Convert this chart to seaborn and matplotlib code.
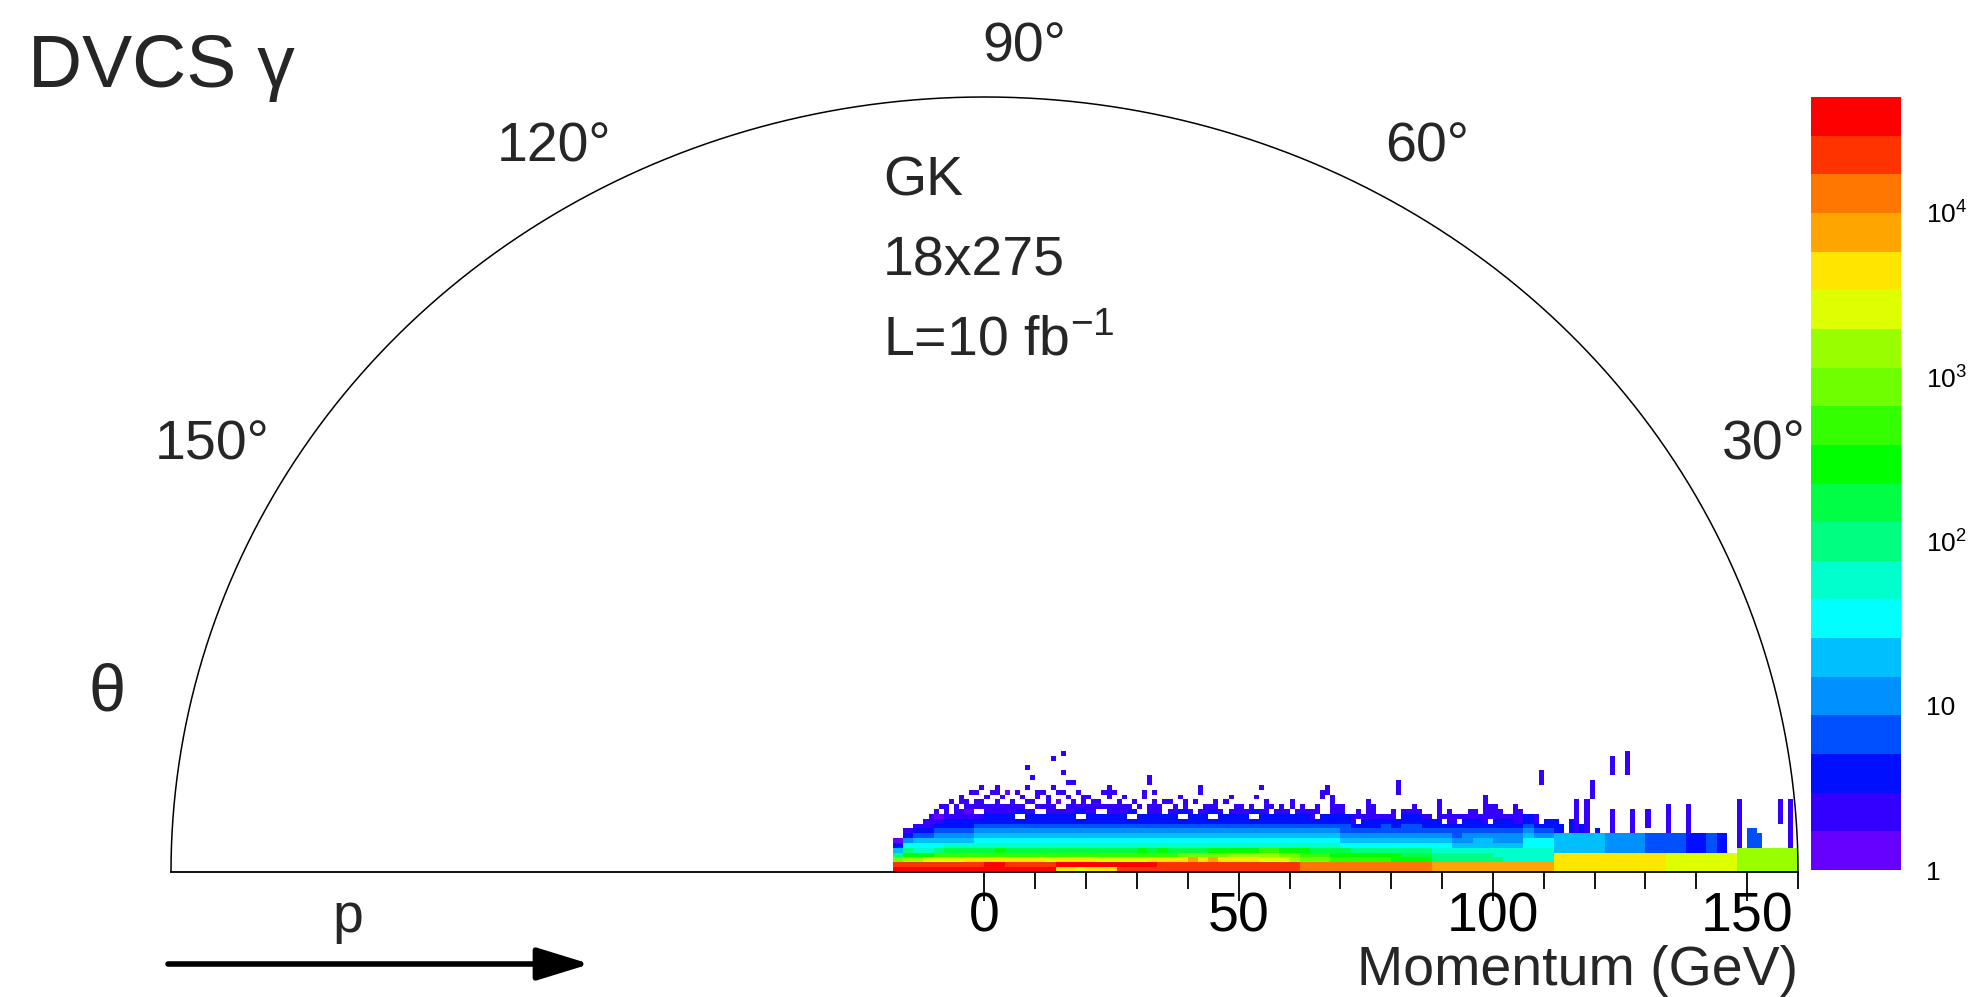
import numpy as np
import matplotlib
matplotlib.use("Agg")
import matplotlib.pyplot as plt
import seaborn as sns
from matplotlib.colors import ListedColormap, LogNorm
from matplotlib.cm import ScalarMappable
from matplotlib.ticker import NullLocator

# ------------------------------------------------------------------ data
TITLE = "DVCS γ"
INFO_LINES = ["GK", "18x275", "L=10 fb$^{-1}$"]
ANGLE_LABELS = ["150°", "120°", "90°", "60°", "30°"]
THETA_LABEL = "θ"
ARROW_LABEL = "p"
X_LABEL = "Momentum (GeV)"
MOMENTUM_TICKS = [0, 50, 100, 150]
MOMENTUM_MINOR_STEP = 10
MOMENTUM_MAX = 160

# histogram binning (GeV)
X_BIN_START = -18
X_BIN_WIDTH = 1
CORE_COLUMN_WIDTH = 2
Y_BIN_HEIGHT = 1.0

# colour palette: 20 log-spaced contour levels, 1 ... ~5e4
LEVEL_COLORS = ["#6600ff", "#3300ff", "#0010ff", "#0050ff", "#0090ff",
                "#00bfff", "#00ffff", "#00ffcc", "#00ff80", "#00ff44",
                "#00ff00", "#33ff00", "#70ff00", "#99ff00", "#ddff00",
                "#ffe600", "#ffa500", "#ff7700", "#ff3300", "#ff0000"]
LEVEL_STEP = 4.0 / 17.0                 # decades per colour level
LEVEL_CODES = "123456789abcdefghijk"    # level 1..20
CBAR_TICKS = [1, 10, 100, 1000, 10000]
CBAR_LABELS = ["1", "10", "$10^{2}$", "$10^{3}$", "$10^{4}$"]

# dense core: one profile per 2 GeV momentum column starting at -18 GeV,
# colour level of each 1 GeV-high cell from the bottom up ('.' = empty)
CORE_PROFILES = [
    "kjd9631",          # -18
    "kjeb97532",        # -16
    "kjeb876432",       # -14
    "kjfb8764322",      # -12
    "kjfc97654321",     # -10
    "kjfca8654332",     # -8
    "kjfca86543322",    # -6
    "kjgca865433212",   # -4
    "kjgca8765432.2",   # -2
    "kkgca87654332",    # 0
    "kkgcb876543322",   # 2
    "kjgca87654332",    # 4
    "kjgca876543.32",   # 6
    "kjgca87654332",    # 8
    "kjgca8765433.2",   # 10
    "kjfca876543322",   # 12
    "gkgca87654332",    # 14
    "gkgca876543322",   # 16
    "fkgca876543.32",   # 18
    "gkgca87654332",    # 20
    "gkfca8765433.2",   # 22
    "gkfca876543322",   # 24
    "jkfca87654332",    # 26
    "jkfca876543.3",    # 28
    "jkfcb8765433",     # 30
    "jkgca876543322",   # 32
    "jjgcb8765433",     # 34
    "jjgca87654332",    # 36
    "jjgda876543.3",    # 38
    "jjhda8765433",     # 40
    "jjgda87654332",    # 42
    "jjhdb876543.3",    # 44
    "jjgdb8765433",     # 46
    "jjgeb87654332",    # 48
    "jjgeb8765433",     # 50
    "jjgeb876543.3",    # 52
    "jjfec87654332",    # 54
    "jjfec8765433",     # 56
    "jjfdb87654332",    # 58
    "jjedb8765433",     # 60
    "iidcb87654332",    # 62
    "iidca876543",      # 64
    "iidca8765433",     # 66
    "iicba876543322",   # 68
    "iicba7654433",     # 70
    "iicb976543",       # 72
    "iicb97654332",     # 74
    "iicb9765433",      # 76
    "iicb97654432",     # 78
    "iibb9765433",      # 80
    "iiba976544332",    # 82
    "iiba97654433",     # 84
    "iiba9765433",      # 86
    "hh998765433",      # 88
    "hh99876543",       # 90
    "hh99865443",       # 92
    "hh9986554332",     # 94
    "hh998665433",      # 96
    "hh99866543",       # 98
    "hh9886554332",     # 100
    "hh888655433",      # 102
    "hh88865543",       # 104
    "hh8887765433",     # 106
    "hh88877543",       # 108
    "hh8887754",        # 110
    "gggg6666",         # 112
    "gggg6666",         # 114
    "gggg6666",         # 116
    "gggg6666",         # 118
    "gggg6666",         # 120
    "gggg5555",         # 122
    "gggg5555",         # 124
    "gggg5555",         # 126
    "gggg5555",         # 128
    "gggg4444",         # 130
    "gggg4444",         # 132
    "ffff4444",         # 134
    "ffff4444",         # 136
    "ffff3333",         # 138
    "ffff3333",         # 140
    "ffff4444",         # 142
    "ffff3333",         # 144
    "ffff",             # 146
    "eeeee",            # 148
    "eeeee",            # 150
    "eeeee",            # 152
    "eeeee",            # 154
    "eeeee",            # 156
    "eeeee",            # 158
]

# sparse cells above the core: (momentum bin left edge in GeV, first row,
# last row, colour level) for 1 GeV wide vertical runs
SPARSE_RUNS = [
    (-11, 10, 11, 2), (-10, 12, 12, 2), (-9, 11, 11, 1), (-8, 12, 13, 2),
    (-7, 11, 11, 2), (-6, 13, 13, 2), (-5, 12, 12, 1), (-4, 14, 14, 2),
    (-3, 16, 16, 2), (-3, 13, 13, 2), (-2, 14, 14, 2), (-1, 17, 17, 2),
    (-1, 13, 14, 2), (0, 15, 15, 2), (1, 13, 13, 2), (1, 16, 16, 2),
    (2, 14, 14, 2), (3, 13, 13, 1), (4, 13, 13, 2), (5, 14, 14, 2),
    (6, 13, 13, 2), (7, 15, 15, 2), (8, 21, 21, 2), (9, 19, 19, 2),
    (9, 14, 14, 2), (10, 15, 16, 2), (11, 13, 13, 2), (12, 14, 15, 2),
    (13, 17, 17, 2), (13, 23, 23, 2), (14, 14, 14, 1), (15, 16, 16, 2),
    (15, 20, 20, 2), (15, 24, 24, 2), (16, 18, 18, 2), (17, 18, 18, 2),
    (17, 14, 14, 2), (19, 14, 15, 2), (20, 13, 13, 2), (22, 14, 14, 2),
    (23, 13, 13, 2), (24, 15, 17, 2), (25, 16, 16, 2), (26, 13, 14, 2),
    (27, 15, 15, 2), (28, 13, 13, 2), (31, 15, 16, 2), (32, 18, 19, 2),
    (33, 13, 14, 2), (34, 12, 13, 2), (35, 14, 14, 2), (37, 13, 13, 2),
    (39, 13, 14, 2), (40, 12, 12, 2), (41, 14, 14, 2), (42, 16, 17, 2),
    (44, 12, 13, 2), (45, 13, 14, 2), (46, 12, 12, 2), (48, 15, 15, 2),
    (50, 12, 13, 2), (51, 11, 12, 2), (52, 13, 13, 2), (54, 17, 17, 2),
    (55, 13, 14, 2), (57, 12, 12, 2), (58, 12, 13, 2), (62, 13, 13, 2),
    (64, 11, 12, 2), (66, 15, 16, 2), (67, 16, 17, 2), (68, 11, 15, 2),
    (69, 11, 13, 2), (70, 12, 13, 2), (72, 10, 11, 2), (75, 11, 14, 2),
    (76, 11, 13, 2), (78, 11, 11, 2), (81, 16, 18, 2), (84, 11, 13, 2),
    (86, 11, 11, 2), (89, 10, 14, 2), (92, 10, 11, 2), (95, 11, 12, 2),
    (98, 10, 15, 2), (99, 11, 13, 2), (100, 12, 13, 2), (101, 11, 12, 2),
    (104, 9, 13, 2), (105, 9, 12, 2), (107, 10, 11, 2), (109, 18, 20, 2),
    (110, 9, 10, 3), (111, 8, 10, 3), (112, 8, 10, 3), (113, 8, 9, 3),
    (115, 8, 10, 3), (116, 8, 14, 2), (117, 8, 9, 3), (118, 8, 14, 2),
    (119, 15, 18, 2), (120, 8, 8, 3), (123, 8, 12, 2), (123, 20, 23, 2),
    (126, 20, 24, 2), (127, 8, 12, 2), (130, 9, 12, 2), (134, 8, 13, 2),
    (138, 8, 13, 2), (148, 5, 14, 2), (150, 5, 8, 4), (151, 5, 8, 4),
    (152, 5, 7, 4), (156, 10, 14, 2), (158, 5, 14, 2),
    (-9, 13, 13, 2), (-7, 14, 14, 2), (-5, 14, 15, 2), (-2, 16, 16, 2),
    (0, 13, 13, 2), (2, 16, 17, 2), (3, 15, 15, 2), (4, 16, 16, 1),
    (5, 13, 13, 2), (6, 16, 16, 2), (8, 14, 14, 2), (8, 17, 17, 2),
    (11, 16, 16, 2), (12, 13, 13, 2), (14, 16, 16, 2), (16, 15, 15, 2),
    (18, 13, 13, 2), (18, 16, 16, 2), (20, 15, 15, 2), (21, 13, 14, 2),
    (23, 16, 16, 2), (25, 13, 13, 2), (27, 13, 13, 2), (29, 14, 14, 2),
    (30, 13, 13, 2), (33, 16, 16, 2), (36, 14, 14, 2), (38, 15, 15, 2),
    (43, 13, 13, 2), (47, 14, 14, 2), (49, 13, 13, 2), (53, 15, 15, 2),
    (56, 13, 13, 2), (60, 13, 14, 2), (61, 12, 12, 2), (63, 12, 12, 2),
    (65, 12, 13, 2), (71, 11, 11, 2), (73, 11, 12, 2), (74, 10, 10, 2),
    (77, 11, 11, 2), (79, 11, 11, 2), (80, 11, 12, 2), (83, 11, 11, 2),
    (85, 11, 12, 2), (87, 10, 11, 2), (90, 11, 11, 2), (91, 10, 12, 2),
    (93, 11, 11, 2), (94, 10, 11, 2), (96, 10, 12, 2), (97, 11, 11, 2),
    (102, 11, 11, 2), (103, 10, 11, 2), (106, 10, 10, 2), (108, 9, 11, 2),
]

# ------------------------------------------------------------------ build cells
cells = {}
for i, prof in enumerate(CORE_PROFILES):
    x0 = X_BIN_START + CORE_COLUMN_WIDTH * i
    for j, ch in enumerate(prof):
        if ch == ".":
            continue
        for sub in range(CORE_COLUMN_WIDTH // X_BIN_WIDTH):
            cells[(x0 + sub * X_BIN_WIDTH, j)] = LEVEL_CODES.index(ch) + 1
for x0, r0, r1, lvl in SPARSE_RUNS:
    for r in range(r0, r1 + 1):
        cells.setdefault((x0, r), lvl)

xs = np.array([k[0] + 0.5 * X_BIN_WIDTH for k in cells])
ys = np.array([(k[1] + 0.5) * Y_BIN_HEIGHT for k in cells])
ws = np.array([10 ** ((v - 0.5) * LEVEL_STEP) for v in cells.values()])
n_cols = len(CORE_PROFILES) * CORE_COLUMN_WIDTH // X_BIN_WIDTH
n_rows = max(k[1] for k in cells) + 1
x_edges = X_BIN_START + X_BIN_WIDTH * np.arange(n_cols + 1)
y_edges = Y_BIN_HEIGHT * np.arange(n_rows + 1)

cmap = ListedColormap(LEVEL_COLORS)
norm = LogNorm(vmin=1.0, vmax=10 ** (len(LEVEL_COLORS) * LEVEL_STEP))

# ------------------------------------------------------------------ style
sns.set_theme(style="white")
plt.rcParams["font.family"] = ["Liberation Sans", "DejaVu Sans"]
plt.rcParams["mathtext.fontset"] = "custom"
plt.rcParams["mathtext.rm"] = "Liberation Sans"
plt.rcParams["mathtext.it"] = "Liberation Sans:italic"
plt.rcParams["mathtext.bf"] = "Liberation Sans:bold"

W, H = 1983, 997
fig = plt.figure(figsize=(W / 100, H / 100), dpi=100)
fig.patch.set_facecolor("white")


def fx(px):
    return px / W


def fy(py):
    return 1 - py / H


ax = fig.add_axes([fx(171), fy(872), (1798 - 171) / W, (872 - 97) / H])
ax.set_facecolor("none")

sns.histplot(x=xs, y=ys, weights=ws, bins=[x_edges, y_edges],
             cmap=cmap, norm=norm, vmin=None, vmax=None, ax=ax)

# semicircular frame
R = MOMENTUM_MAX
t = np.linspace(0, np.pi, 1441)
ax.plot(R * np.cos(t), R * np.sin(t), color="black", lw=1.1, clip_on=False,
        zorder=5)

ax.set_xlim(-R, R)
ax.set_ylim(0, R)
for s in ["left", "right", "top"]:
    ax.spines[s].set_visible(False)
ax.spines["bottom"].set_bounds(-R, R)
ax.spines["bottom"].set_linewidth(1.3)
ax.spines["bottom"].set_color("black")
ax.spines["bottom"].set_zorder(6)
ax.set_yticks([])
ax.set_xticks(MOMENTUM_TICKS)
ax.set_xticklabels([str(v) for v in MOMENTUM_TICKS])
ax.set_xticks(np.arange(0, MOMENTUM_MAX + 1, MOMENTUM_MINOR_STEP), minor=True)
ax.tick_params(axis="x", which="both", bottom=True, direction="out",
               color="black", width=1.3, labelsize=40, pad=-7,
               labelcolor="black")
ax.tick_params(axis="x", which="major", length=21)
ax.tick_params(axis="x", which="minor", length=12)
ax.set_xlabel("")
ax.set_ylabel("")
ax.grid(False)

# colour bar
cax = fig.add_axes([fx(1811), fy(870), 90 / W, (870 - 97) / H])
cb = fig.colorbar(ScalarMappable(norm=norm, cmap=cmap), cax=cax)
cb.outline.set_visible(False)
cb.set_ticks(CBAR_TICKS)
cb.set_ticklabels(CBAR_LABELS)
cax.yaxis.set_minor_locator(NullLocator())
cax.tick_params(length=0, labelsize=19, pad=18, labelcolor="black")

# texts
fig.text(fx(28), fy(68), TITLE, fontsize=54, ha="left", va="center")
angle_pos = [(212, 445), (554, 148), (1024, 48), (1427, 148), (1764, 445)]
for lab, (px, py) in zip(ANGLE_LABELS, angle_pos):
    fig.text(fx(px), fy(py), lab, fontsize=40, ha="center", va="center")
fig.text(fx(107), fy(693), THETA_LABEL, fontsize=48, ha="center",
         va="center")
for k, line in enumerate(INFO_LINES):
    fig.text(fx(883), fy(181 + 80 * k), line, fontsize=40, ha="left",
             va="center")
fig.text(fx(1798), fy(971), X_LABEL, fontsize=40, ha="right", va="center")

# momentum arrow
fig.text(fx(348), fy(918), ARROW_LABEL, fontsize=40, ha="center",
         va="center")
ax.annotate("", xy=(590, H - 964), xytext=(168, H - 964),
            xycoords="figure pixels", textcoords="figure pixels",
            arrowprops=dict(arrowstyle="-|>,head_length=1.3,head_width=0.4",
                            mutation_scale=25, lw=4, color="black",
                            shrinkA=0, shrinkB=0))

fig.savefig("out.png", dpi=100, facecolor="white")
